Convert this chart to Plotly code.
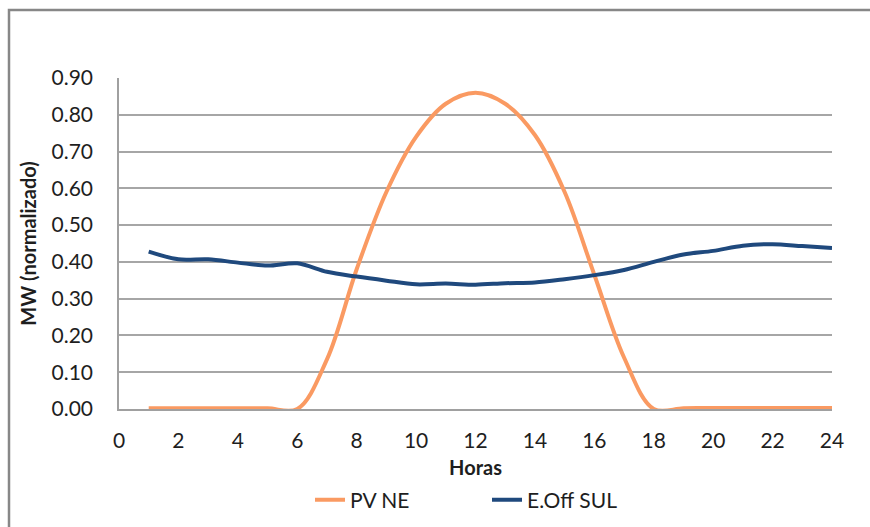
import plotly.graph_objects as go

hours = list(range(1, 25))
pv_ne = [0.002, 0.002, 0.002, 0.002, 0.002, 0.0, 0.135, 0.38, 0.59, 0.74, 0.83, 0.86,
         0.83, 0.745, 0.59, 0.365, 0.14, 0.0, 0.002, 0.003, 0.003, 0.003, 0.003, 0.003]
eoff_sul = [0.428, 0.407, 0.407, 0.398, 0.39, 0.396, 0.373, 0.36, 0.349, 0.339, 0.341, 0.338,
            0.342, 0.344, 0.353, 0.364, 0.378, 0.40, 0.42, 0.43, 0.444, 0.448, 0.443, 0.438]
x_ticks = list(range(0, 25, 2))
y_ticks = [round(i * 0.1, 2) for i in range(10)]

FONT = "Lato, 'Open Sans', sans-serif"
TXT = "#1e1e1e"

fig = go.Figure()
fig.add_trace(go.Scatter(x=hours, y=pv_ne, name="PV NE", mode="lines",
                         line=dict(color="#FA9A62", width=4, shape="spline", smoothing=1.0)))
fig.add_trace(go.Scatter(x=hours, y=eoff_sul, name="E.Off SUL", mode="lines",
                         line=dict(color="#1F497D", width=4, shape="spline", smoothing=0.9)))

fig.update_layout(
    width=870, height=527,
    margin=dict(l=119, r=38, t=78, b=118, autoexpand=False),
    paper_bgcolor="white", plot_bgcolor="white",
    font=dict(family=FONT, size=21, color=TXT),
    showlegend=True,
    legend=dict(orientation="h", x=(310 - 119) / 713, xanchor="left", y=(409 - 500) / 331,
                yanchor="middle", font=dict(size=21, color=TXT),
                entrywidth=132, entrywidthmode="pixels", traceorder="normal"),
    xaxis=dict(range=[0, 24], tickvals=x_ticks, ticktext=[str(v) for v in x_ticks],
               showgrid=False, zeroline=False, showline=True, linecolor="#A0A0A0", linewidth=1.5,
               ticks="", ticklabelstandoff=12,
               title=dict(text="<b>Horas</b>", font=dict(size=20, color=TXT), standoff=10)),
    yaxis=dict(range=[0, 0.9], tickvals=y_ticks, ticktext=[f"{v:.2f}" for v in y_ticks],
               showgrid=True, gridcolor="#A6A6A6", gridwidth=1.5, zeroline=False,
               showline=True, linecolor="#A0A0A0", linewidth=1.5, ticks="", ticklabelstandoff=20,
               title=dict(text="<b>MW (normalizado)</b>", font=dict(size=20, color=TXT), standoff=10)),
    shapes=[dict(type="rect", xref="paper", yref="paper",
                 x0=(9 - 119) / 713, x1=1.2, y0=-0.6, y1=(409 - 10) / 331,
                 line=dict(color="#878787", width=2.5), layer="below")],
)

fig.write_html("out.html")
